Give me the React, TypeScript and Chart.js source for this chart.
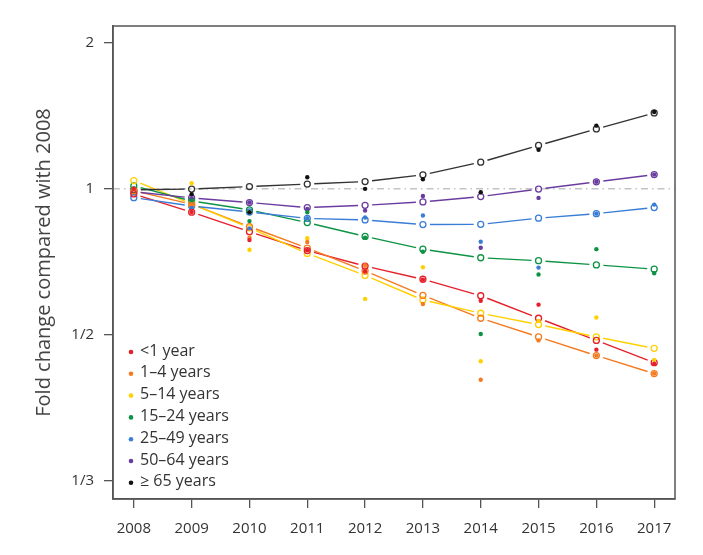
import React, { useEffect, useRef } from "react";
import { Chart, registerables } from "chart.js";

Chart.register(...registerables);

// ---- data ----
const years = [2008, 2009, 2010, 2011, 2012, 2013, 2014, 2015, 2016, 2017];

const groupLabels = ["<1 year", "1\u20134 years", "5\u201314 years", "15\u201324 years", "25\u201349 years", "50\u201364 years", "\u2265 65 years"];
const groupColors = ["#E5202A", "#F47B20", "#FFD000", "#0E9345", "#3A7DD6", "#6A3C9F", "#111111"];
const lineColors = ["#E5202A", "#F47B20", "#FFD000", "#0E9345", "#3A7DD6", "#6A3C9F", "#333333"];

// fitted trend (open circles + lines)
const fittedUnder1 = [0.976, 0.895, 0.816, 0.746, 0.693, 0.651, 0.602, 0.541, 0.487, 0.438];
const fitted1to4 = [0.991, 0.93, 0.836, 0.755, 0.677, 0.603, 0.541, 0.495, 0.453, 0.416];
const fitted5to14 = [1.04, 0.931, 0.831, 0.736, 0.663, 0.59, 0.554, 0.525, 0.495, 0.469];
const fitted15to24 = [1.014, 0.944, 0.905, 0.852, 0.798, 0.751, 0.721, 0.711, 0.697, 0.683];
const fitted25to49 = [0.959, 0.922, 0.896, 0.869, 0.863, 0.844, 0.845, 0.87, 0.889, 0.915];
const fitted50to64 = [0.986, 0.958, 0.937, 0.915, 0.925, 0.94, 0.964, 0.999, 1.034, 1.07];
const fitted65plus = [0.995, 0.999, 1.011, 1.023, 1.035, 1.069, 1.135, 1.229, 1.329, 1.434];

// observed (filled dots)
const observedUnder1 = [1, 0.896, 0.784, 0.747, 0.676, 0.65, 0.588, 0.577, 0.466, 0.436];
const observed1to4 = [1, 0.93, 0.793, 0.777, 0.696, 0.579, 0.404, 0.487, 0.453, 0.416];
const observed5to14 = [1, 1.027, 0.749, 0.791, 0.593, 0.689, 0.441, 0.534, 0.543, 0.444];
const observed15to24 = [1, 0.944, 0.858, 0.895, 0.793, 0.742, 0.502, 0.666, 0.751, 0.67];
const observed25to49 = [1, 0.918, 0.829, 0.87, 0.873, 0.881, 0.778, 0.688, 0.889, 0.928];
const observed50to64 = [1, 0.957, 0.937, 0.909, 0.902, 0.967, 0.756, 0.958, 1.034, 1.07];
const observed65plus = [1, 0.975, 0.895, 1.057, 1.0, 1.047, 0.984, 1.204, 1.35, 1.44];

const fittedSeries = [fittedUnder1, fitted1to4, fitted5to14, fitted15to24, fitted25to49, fitted50to64, fitted65plus];
const observedSeries = [observedUnder1, observed1to4, observed5to14, observed15to24, observed25to49, observed50to64, observed65plus];

const yTickValues = [0.25, 0.5, 1, 2];
const yTickLabels = ["1/3", "1/2", "1", "2"];

const FONT = "'Open Sans', 'Noto Sans', sans-serif";

const decorPlugin = {
  id: "decor",
  beforeDatasetsDraw(chart: any) {
    const { ctx, chartArea } = chart;
    ctx.save();
    // reference line at 1
    const y1 = chart.scales.y.getPixelForValue(1);
    ctx.setLineDash([7, 4, 1.5, 4]);
    ctx.strokeStyle = "#c4c4c4";
    ctx.lineWidth = 1.5;
    ctx.beginPath();
    ctx.moveTo(chartArea.left, y1);
    ctx.lineTo(chartArea.right, y1);
    ctx.stroke();
    ctx.setLineDash([]);
    // fitted lines with gaps around points
    chart.data.datasets.forEach((ds: any, i: number) => {
      if (!ds.fitted) return;
      const pts = chart.getDatasetMeta(i).data;
      ctx.strokeStyle = ds.lineColor;
      ctx.lineWidth = 1.4;
      const g = 7;
      for (let k = 0; k < pts.length - 1; k++) {
        const a = pts[k], b = pts[k + 1];
        const dx = b.x - a.x, dy = b.y - a.y;
        const len = Math.hypot(dx, dy);
        if (len <= 2 * g) continue;
        const ux = dx / len, uy = dy / len;
        ctx.beginPath();
        ctx.moveTo(a.x + ux * g, a.y + uy * g);
        ctx.lineTo(b.x - ux * g, b.y - uy * g);
        ctx.stroke();
      }
    });
    ctx.restore();
  },
  afterDraw(chart: any) {
    const { ctx, chartArea } = chart;
    ctx.save();
    ctx.strokeStyle = "#555";
    ctx.lineWidth = 1.5;
    ctx.strokeRect(chartArea.left, chartArea.top, chartArea.right - chartArea.left, chartArea.bottom - chartArea.top);
    // legend
    const x0 = chartArea.left + 18;
    const yStart = chartArea.bottom - 147;
    const step = 21.8;
    ctx.font = `16px ${FONT}`;
    ctx.textBaseline = "middle";
    groupLabels.forEach((lab, i) => {
      const y = yStart + i * step;
      ctx.fillStyle = groupColors[i];
      ctx.beginPath();
      ctx.arc(x0, y, 2.3, 0, Math.PI * 2);
      ctx.fill();
      ctx.fillStyle = "#333";
      ctx.fillText(lab, x0 + 9, y - 1);
    });
    ctx.restore();
  },
};

export default function App() {
  const ref = useRef<HTMLCanvasElement>(null);
  useEffect(() => {
    if (!ref.current) return;
    const datasets: any[] = [];
    fittedSeries.forEach((s, i) => {
      datasets.push({
        fitted: true,
        lineColor: lineColors[i],
        data: years.map((x, k) => ({ x, y: s[k] })),
        showLine: false,
        pointRadius: 3,
        pointBorderWidth: 1.3,
        pointBorderColor: lineColors[i],
        pointBackgroundColor: "rgba(0,0,0,0)",
        order: 2,
      });
    });
    observedSeries.forEach((s, i) => {
      datasets.push({
        data: years.map((x, k) => ({ x, y: s[k] })),
        showLine: false,
        pointRadius: 2.2,
        pointBorderWidth: 0,
        pointBackgroundColor: groupColors[i],
        pointBorderColor: groupColors[i],
        order: 1,
      });
    });
    const chart = new Chart(ref.current, {
      type: "scatter",
      data: { datasets },
      plugins: [decorPlugin],
      options: {
        responsive: false,
        animation: false,
        layout: { padding: { left: 0, right: 28, top: 26, bottom: 0 } },
        plugins: { legend: { display: false }, tooltip: { enabled: false } },
        scales: {
          x: {
            type: "linear",
            min: 2007.64,
            max: 2017.36,
            afterBuildTicks: (s: any) => {
              s.ticks = years.map((v) => ({ value: v }));
            },
            afterFit: (s: any) => {
              s.height = 56;
            },
            ticks: {
              callback: (v: any) => String(v),
              font: { family: FONT, size: 15 },
              color: "#333",
              padding: 12,
              maxRotation: 0,
              autoSkip: false,
            },
            grid: { drawOnChartArea: false, drawTicks: true, tickLength: 9, color: "#555", lineWidth: 1.3 },
            border: { display: true, color: "#555", width: 1.5 },
          },
          y: {
            type: "logarithmic",
            min: 0.2293,
            max: 2.167,
            afterBuildTicks: (s: any) => {
              s.ticks = yTickValues.map((v) => ({ value: v }));
            },
            afterFit: (s: any) => {
              s.width = 113;
            },
            ticks: {
              callback: (_v: any, i: number) => yTickLabels[i],
              font: { family: FONT, size: 15 },
              color: "#333",
              padding: 10,
              autoSkip: false,
            },
            grid: { drawOnChartArea: false, drawTicks: true, tickLength: 9, color: "#555", lineWidth: 1.3 },
            border: { display: true, color: "#555", width: 1.5 },
            title: {
              display: true,
              text: "Fold change compared with 2008",
              font: { family: FONT, size: 20 },
              color: "#444",
              padding: { top: 32, bottom: 0 },
            },
          },
        },
      } as any,
    });
    return () => chart.destroy();
  }, []);
  return (
    <div style={{ position: "fixed", left: 0, top: 0, width: 703, height: 555, background: "#fff" }}>
      <canvas ref={ref} width={703} height={555} />
    </div>
  );
}
